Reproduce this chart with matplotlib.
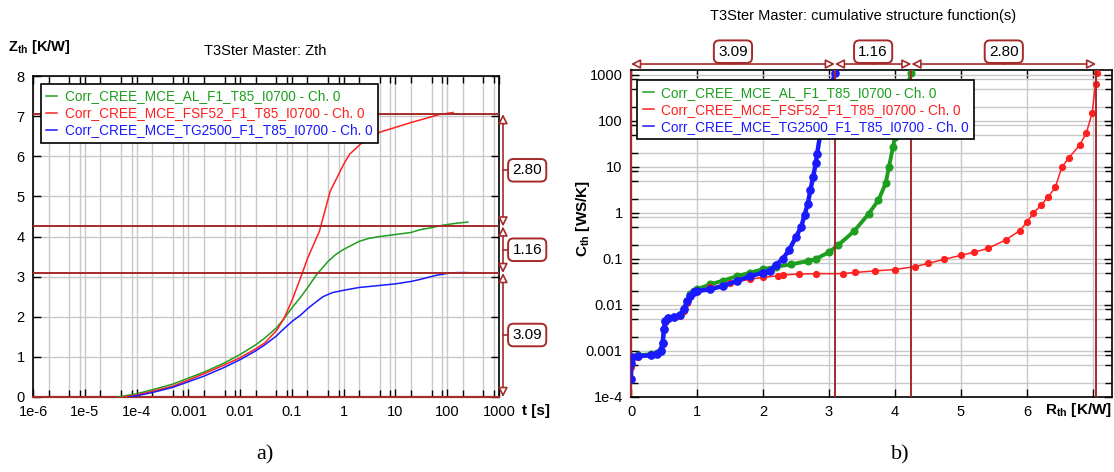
import matplotlib.pyplot as plt
import matplotlib.transforms as mtransforms
from matplotlib.ticker import FixedLocator, NullFormatter

plt.rcParams['font.family'] = ['Liberation Sans', 'DejaVu Sans']
plt.rcParams['mathtext.fontset'] = 'custom'
plt.rcParams['mathtext.rm'] = 'Liberation Sans'
plt.rcParams['mathtext.bf'] = 'Liberation Sans:bold'

# series names
names = ['Corr_CREE_MCE_AL_F1_T85_I0700 - Ch. 0',
         'Corr_CREE_MCE_FSF52_F1_T85_I0700 - Ch. 0',
         'Corr_CREE_MCE_TG2500_F1_T85_I0700 - Ch. 0']

# a) Zth curves, time [s] vs Zth [K/W]
t_al = [4.4e-5, 6e-5, 1e-4, 2e-4, 5e-4, 1e-3, 2e-3, 5e-3, 0.01, 0.02, 0.03, 0.05,
        0.07, 0.1, 0.15, 0.2, 0.3, 0.5, 0.7, 1, 2, 3, 5, 10, 20, 30, 50, 80, 150, 250]
z_al = [0, 0.03, 0.08, 0.18, 0.32, 0.47, 0.62, 0.85, 1.06, 1.3, 1.47, 1.72,
        1.95, 2.22, 2.5, 2.72, 3.05, 3.38, 3.55, 3.68, 3.88, 3.95, 4.0, 4.05, 4.1, 4.17, 4.22, 4.28, 4.33, 4.36]

t_fsf = [5.5e-5, 1e-4, 2e-4, 5e-4, 1e-3, 2e-3, 5e-3, 0.01, 0.02, 0.03, 0.05, 0.07,
         0.1, 0.15, 0.2, 0.34, 0.55, 1.0, 1.3, 2.1, 3, 5, 10, 20, 40, 70, 130]
z_fsf = [0, 0.05, 0.14, 0.27, 0.42, 0.58, 0.8, 0.98, 1.2, 1.35, 1.65, 1.95,
         2.4, 3.0, 3.45, 4.13, 5.13, 5.8, 6.05, 6.3, 6.45, 6.6, 6.72, 6.84, 6.95, 7.04, 7.09]

t_tg = [7e-5, 1e-4, 2e-4, 5e-4, 1e-3, 2e-3, 5e-3, 0.01, 0.02, 0.03, 0.05, 0.07,
        0.1, 0.15, 0.2, 0.3, 0.4, 0.6, 1, 2, 5, 10, 20, 30, 60, 100, 150, 250]
z_tg = [0, 0.03, 0.11, 0.24, 0.38, 0.52, 0.74, 0.93, 1.15, 1.3, 1.52, 1.7,
        1.88, 2.05, 2.2, 2.38, 2.5, 2.6, 2.66, 2.73, 2.78, 2.82, 2.88, 2.93, 3.03, 3.08, 3.1, 3.1]

# b) cumulative structure functions, Rth [K/W] vs Cth [WS/K]
r_al = [0.0, 0.005, 0.02, 0.1, 0.3, 0.4, 0.45, 0.48, 0.5, 0.52, 0.56, 0.65, 0.75, 0.8,
        0.85, 0.9, 0.95, 1.0, 1.2, 1.4, 1.6, 1.8, 2.0, 2.2, 2.42, 2.68, 2.8, 3.0, 3.14,
        3.38, 3.6, 3.75, 3.86, 3.91, 3.97, 4.0, 4.05, 4.25]
c_al = [2.5e-4, 5e-4, 7.5e-4, 8e-4, 8.5e-4, 9e-4, 1.05e-3, 1.5e-3, 3e-3, 4.5e-3, 5.2e-3, 5.6e-3, 6e-3, 8e-3,
        1.2e-2, 1.7e-2, 2.0e-2, 2.2e-2, 2.8e-2, 3.4e-2, 4.2e-2, 5e-2, 6e-2, 6.8e-2, 7.6e-2, 9e-2, 0.1, 0.14, 0.2,
        0.4, 0.95, 1.9, 4.4, 10, 27, 45, 150, 1100]

r_fsf = [0.0, 0.005, 0.02, 0.1, 0.3, 0.4, 0.45, 0.48, 0.5, 0.52, 0.56, 0.65, 0.75, 0.8,
         0.85, 0.9, 0.95, 1.0, 1.2, 1.5, 1.8, 2.0, 2.23, 2.3, 2.55, 2.8, 3.22, 3.4, 3.7, 4.0,
         4.3, 4.5, 4.74, 5.0, 5.2, 5.41, 5.68, 5.89, 6.0, 6.1, 6.22, 6.32, 6.43, 6.53, 6.64,
         6.8, 6.9, 6.99, 7.04, 7.06]
c_fsf = [2.5e-4, 4.5e-4, 7e-4, 7.5e-4, 8e-4, 8.5e-4, 1e-3, 1.4e-3, 2.8e-3, 4.3e-3, 5e-3, 5.4e-3, 5.8e-3, 7.5e-3,
         1.1e-2, 1.6e-2, 1.9e-2, 2.0e-2, 2.4e-2, 3.0e-2, 3.6e-2, 4.0e-2, 4.3e-2, 4.5e-2, 4.7e-2, 4.8e-2, 4.8e-2,
         5.1e-2, 5.5e-2, 5.9e-2, 6.8e-2, 8e-2, 9.8e-2, 0.12, 0.14, 0.17, 0.26, 0.41, 0.63, 1.0, 1.5, 2.2, 3.6,
         10, 16, 30, 54, 150, 650, 1100]

r_tg = [0.0, 0.005, 0.02, 0.1, 0.3, 0.4, 0.45, 0.48, 0.5, 0.52, 0.56, 0.65, 0.75, 0.8,
        0.85, 0.9, 0.95, 1.0, 1.2, 1.4, 1.6, 1.8, 2.0, 2.1, 2.2, 2.3, 2.4, 2.5, 2.58, 2.63,
        2.68, 2.72, 2.76, 2.8, 2.82, 2.87, 2.95, 3.09]
c_tg = [2.5e-4, 5.5e-4, 7.5e-4, 7.8e-4, 8e-4, 8.5e-4, 1e-3, 1.5e-3, 3e-3, 4.5e-3, 5.2e-3, 5.5e-3, 6e-3, 8e-3,
        1.2e-2, 1.6e-2, 1.9e-2, 2.0e-2, 2.2e-2, 2.6e-2, 3.3e-2, 4.2e-2, 5e-2, 5.5e-2, 7.5e-2, 0.1, 0.16, 0.3,
        0.5, 0.9, 1.6, 3.2, 6, 12, 19, 54, 200, 1100]

# cumulative thermal resistances and the partial values
r_cum = [3.09, 4.25, 7.05]
r_parts = ['3.09', '1.16', '2.80']

x_decades = [1e-6, 1e-5, 1e-4, 1e-3, 1e-2, 1e-1, 1, 10, 100, 1000]
x_labels = ['1e-6', '1e-5', '1e-4', '0.001', '0.01', '0.1', '1', '10', '100', '1000']
c_decades = [1e-4, 1e-3, 1e-2, 1e-1, 1, 10, 100, 1000]
c_labels = ['1e-4', '0.001', '0.01', '0.1', '1', '10', '100', '1000']

colors = ['#1e9e1e', '#ff2020', '#1a1aff']
dr = '#a52a2a'
grid_c = '#c8c8c8'

W, H = 1114, 472
fig = plt.figure(figsize=(W / 100, H / 100), dpi=100)

leg_kw = dict(loc='upper left', fontsize=9.8, labelcolor='linecolor', frameon=True,
              fancybox=False, edgecolor='black', framealpha=1, handlelength=0.8,
              handletextpad=0.55, labelspacing=0.22, borderpad=0.4, borderaxespad=0)

# ---------------- a) Zth ----------------
ax1 = fig.add_axes([33 / W, 1 - 397 / H, 466 / W, 321 / H])
ax1.set_xscale('log')
ax1.set_xlim(1e-6, 1e3)
ax1.set_ylim(0, 8)
ax1.set_xticks(x_decades)
ax1.set_xticklabels(x_labels)
ax1.xaxis.set_minor_locator(FixedLocator([d * m for d in x_decades[:-1] for m in (2, 5, 8)]))
ax1.xaxis.set_minor_formatter(NullFormatter())
ax1.set_yticks(range(9))
ax1.grid(True, which='both', color=grid_c, lw=1.0, zorder=0)
ax1.tick_params(which='both', direction='in', top=True, right=True, labelsize=10.5, pad=6)
ax1.tick_params(which='major', length=6, width=1)
ax1.tick_params(which='minor', length=5, width=1)
for s in ax1.spines.values():
    s.set_linewidth(1.2)
ax1.spines['bottom'].set_color(dr)
ax1.spines['bottom'].set_linewidth(1.6)

for t, z, c, n in zip([t_al, t_fsf, t_tg], [z_al, z_fsf, z_tg], colors, names):
    ax1.plot(t, z, color=c, lw=1.1, label=n, zorder=3)
for r in r_cum:
    ax1.axhline(r, color=dr, lw=1.4, zorder=4)

leg1 = ax1.legend(bbox_to_anchor=(0.017, 0.975), **leg_kw)
leg1.get_frame().set_linewidth(1.2)
leg1.set_zorder(6)

tr1 = mtransforms.blended_transform_factory(ax1.transAxes, ax1.transData)
bx = 1.0086
lows = [0] + r_cum[:-1]
for lo, hi, lab in zip(lows, r_cum, r_parts):
    ax1.annotate('', xy=(bx, lo), xytext=(bx, hi), xycoords=tr1, textcoords=tr1,
                 annotation_clip=False,
                 arrowprops=dict(arrowstyle='<|-|>,head_length=0.55,head_width=0.28',
                                 fc='white', ec=dr, lw=1.2, shrinkA=0, shrinkB=0,
                                 mutation_scale=10))
    mid = (lo + hi) / 2
    ax1.plot([bx, 1.025], [mid, mid], color=dr, lw=1.2, transform=tr1, clip_on=False)
    ax1.text(1.0605, mid, lab, transform=tr1, ha='center', va='center', fontsize=11,
             bbox=dict(boxstyle='round,pad=0.28,rounding_size=0.35', fc='white', ec=dr, lw=1.4))

# ---------------- b) structure functions ----------------
ax2 = fig.add_axes([631 / W, 1 - 397 / H, 481 / W, 327 / H])
ax2.set_yscale('log')
ax2.set_xlim(0, 7.29)
ax2.set_ylim(1e-4, 1.28e3)
ax2.set_xticks(range(8))
ax2.set_xticklabels(['0', '1', '2', '3', '4', '5', '6', ''])
ax2.set_yticks(c_decades)
ax2.set_yticklabels(c_labels)
ax2.yaxis.set_minor_locator(FixedLocator([d * m for d in c_decades[:-1] for m in (2, 5, 8)]))
ax2.yaxis.set_minor_formatter(NullFormatter())
ax2.grid(True, which='both', color=grid_c, lw=1.0, zorder=0)
ax2.tick_params(which='both', direction='in', top=True, right=True, labelsize=10.5, pad=6)
ax2.tick_params(which='major', length=6, width=1)
ax2.tick_params(which='minor', length=5, width=1)
for s in ax2.spines.values():
    s.set_linewidth(1.2)
ax2.spines['left'].set_color(dr)
ax2.spines['left'].set_linewidth(1.6)

for r, c, col, n, lw, ms in zip([r_al, r_fsf, r_tg], [c_al, c_fsf, c_tg], colors, names,
                                [2.8, 1.1, 3.2], [4.8, 4.2, 5.2]):
    ax2.plot(r, c, color=col, lw=lw, marker='o', ms=ms, mec=col, label=n, zorder=3)
for r in r_cum:
    ax2.axvline(r, color=dr, lw=1.4, zorder=4)

leg2 = ax2.legend(bbox_to_anchor=(0.013, 0.969), **leg_kw)
leg2.get_frame().set_linewidth(1.2)
leg2.set_zorder(6)
for h in leg2.legend_handles:
    h.set_marker('')
    h.set_linewidth(1.1)

tr2 = mtransforms.blended_transform_factory(ax2.transData, ax2.transAxes)
by = 1.0183
for lo, hi, lab in zip(lows, r_cum, r_parts):
    ax2.annotate('', xy=(lo, by), xytext=(hi, by), xycoords=tr2, textcoords=tr2,
                 annotation_clip=False,
                 arrowprops=dict(arrowstyle='<|-|>,head_length=0.55,head_width=0.28',
                                 fc='white', ec=dr, lw=1.2, shrinkA=0, shrinkB=0,
                                 mutation_scale=10))
    mid = (lo + hi) / 2
    ax2.plot([mid, mid], [by, 1.026], color=dr, lw=1.2, transform=tr2, clip_on=False)
    ax2.text(mid, 1.056, lab, transform=tr2, ha='center', va='center', fontsize=11,
             bbox=dict(boxstyle='round,pad=0.28,rounding_size=0.35', fc='white', ec=dr, lw=1.4))

# ---------------- labels ----------------
fig.text(265 / W, 1 - 51 / H, 'T3Ster Master: Zth', ha='center', va='center', fontsize=10.5)
fig.text(8 / W, 1 - 47 / H, r'Z$_{\mathbf{th}}$ [K/W]', ha='left', va='center',
         fontsize=10.5, fontweight='bold')
fig.text(522 / W, 1 - 411 / H, 't [s]', ha='left', va='center', fontsize=11, fontweight='bold')
fig.text(863 / W, 1 - 16 / H, 'T3Ster Master: cumulative structure function(s)',
         ha='center', va='center', fontsize=10.5)
fig.text(583 / W, 1 - 218 / H, r'C$_{\mathbf{th}}$ [WS/K]', ha='center', va='center',
         rotation=90, fontsize=11, fontweight='bold')
fig.text(1112 / W, 1 - 410 / H, r'R$_{\mathbf{th}}$ [K/W]', ha='right', va='center',
         fontsize=11, fontweight='bold')
fig.text(265 / W, 1 - 455 / H, 'a)', ha='center', va='center', fontsize=16,
         family='Liberation Serif')
fig.text(900 / W, 1 - 455 / H, 'b)', ha='center', va='center', fontsize=16,
         family='Liberation Serif')

fig.savefig('out.png', dpi=100)
